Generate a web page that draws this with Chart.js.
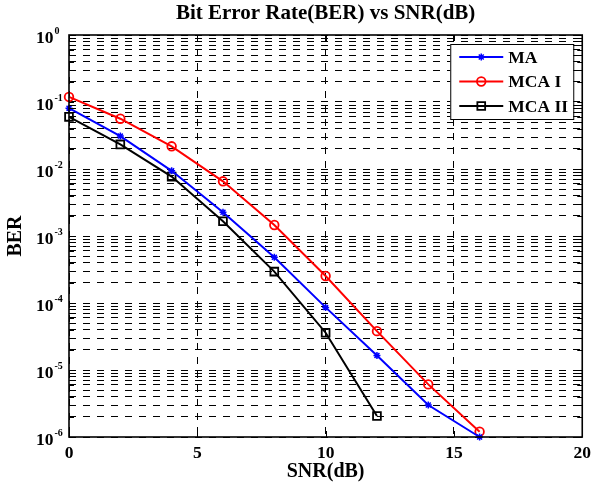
<!DOCTYPE html>
<html><head><meta charset="utf-8">
<script src="https://cdn.jsdelivr.net/npm/chart.js@4/dist/chart.umd.min.js"></script>
<style>html,body{margin:0;padding:0;background:#fff}</style>
</head><body><canvas id="c" width="597" height="486"></canvas>
<script>
// ---- data ----
const seriesNames = ['MA', 'MCA I', 'MCA II'];
const snrMA   = [0, 2, 4, 6, 8, 10, 12, 14, 16];
const berMA   = [0.081, 0.031, 0.0094, 0.00226, 0.00048, 8.6e-5, 1.65e-5, 3.0e-6, 1.0e-6];
const snrMCA1 = [0, 2, 4, 6, 8, 10, 12, 14, 16];
const berMCA1 = [0.119, 0.0563, 0.0218, 0.00655, 0.00146, 0.000253, 3.8e-5, 6.1e-6, 1.2e-6];
const snrMCA2 = [0, 2, 4, 6, 8, 10, 12];
const berMCA2 = [0.060, 0.0233, 0.0077, 0.00166, 0.000294, 3.6e-5, 2.06e-6];
const xTicks = [0, 5, 10, 15, 20];
const yDecadeExps = [0, -1, -2, -3, -4, -5, -6];
const yMinorMult = [1, 2, 3, 4, 5, 6, 7, 8, 9];

const yGrid = [];
yDecadeExps.forEach(e => {
  if (e === 0) { yGrid.push(1); return; }
  yMinorMult.forEach(m => yGrid.push(Number((m * Math.pow(10, e)).toPrecision(3))));
});
yGrid.sort((a, b) => a - b);

const serif = "'Liberation Serif', 'Times New Roman', serif";
const pts = (xs, ys) => xs.map((x, i) => ({ x, y: ys[i] }));

const frame = {
  id: 'frame',
  afterDraw(chart) {
    const { ctx, chartArea: a, scales: { x, y } } = chart;
    ctx.save();
    // inside tick marks
    ctx.strokeStyle = '#000';
    ctx.lineWidth = 1;
    ctx.setLineDash([]);
    ctx.beginPath();
    yGrid.forEach(v => {
      const py = Math.round(y.getPixelForValue(v)) + 0.5;
      ctx.moveTo(a.left, py); ctx.lineTo(a.left + 5, py);
      ctx.moveTo(a.right, py); ctx.lineTo(a.right - 5, py);
    });
    xTicks.forEach(v => {
      const px = Math.round(x.getPixelForValue(v)) + 0.5;
      ctx.moveTo(px, a.bottom); ctx.lineTo(px, a.bottom - 6);
      ctx.moveTo(px, a.top); ctx.lineTo(px, a.top + 6);
    });
    ctx.stroke();
    // box
    ctx.lineWidth = 1.6;
    ctx.strokeRect(a.left, a.top, a.right - a.left, a.bottom - a.top);

    // y tick labels 10^n
    ctx.fillStyle = '#000';
    ctx.textAlign = 'left';
    ctx.textBaseline = 'alphabetic';
    yDecadeExps.forEach(e => {
      const py = y.getPixelForValue(Math.pow(10, e));
      ctx.font = 'bold 17.5px ' + serif;
      ctx.fillText('10', 36, py + 8);
      const w = ctx.measureText('10').width;
      ctx.font = 'bold 10px ' + serif;
      ctx.fillText(String(e), 36 + w + 1, py - 1);
    });

    // legend
    const lw = 123, lh = 75;
    const lx = a.right - 9 - lw, ly = a.top + 9;
    ctx.fillStyle = '#fff';
    ctx.fillRect(lx, ly, lw, lh);
    ctx.lineWidth = 1;
    ctx.strokeStyle = '#000';
    ctx.strokeRect(lx + 0.5, ly + 0.5, lw, lh);
    chart.data.datasets.forEach((ds, i) => {
      const ry = ly + 13 + i * 24.5;
      ctx.strokeStyle = ds.borderColor;
      ctx.lineWidth = ds.borderWidth;
      ctx.beginPath();
      ctx.moveTo(lx + 9, ry); ctx.lineTo(lx + 53, ry);
      ctx.stroke();
      const opts = { pointStyle: ds.pointStyle, radius: ds.pointRadius, rotation: 0, borderWidth: ds.pointBorderWidth };
      ctx.lineWidth = ds.pointBorderWidth;
      ctx.strokeStyle = ds.pointBorderColor;
      ctx.fillStyle = 'rgba(0,0,0,0)';
      Chart.helpers.drawPoint(ctx, opts, lx + 31, ry);
      ctx.fillStyle = '#000';
      ctx.font = 'bold 17.5px ' + serif;
      ctx.textBaseline = 'middle';
      ctx.fillText(ds.label, lx + 58, ry + 1);
    });
    ctx.restore();
  }
};

new Chart(document.getElementById('c'), {
  type: 'line',
  data: {
    datasets: [
      { label: seriesNames[0], data: pts(snrMA, berMA), borderColor: '#0000ff', backgroundColor: '#0000ff',
        borderWidth: 2, pointStyle: 'star', pointRadius: 3.5, pointBorderWidth: 1.5, pointBorderColor: '#0000ff',
        pointBackgroundColor: 'rgba(0,0,0,0)', tension: 0, fill: false, clip: false },
      { label: seriesNames[1], data: pts(snrMCA1, berMCA1), borderColor: '#ff0000', backgroundColor: '#ff0000',
        borderWidth: 2, pointStyle: 'circle', pointRadius: 4.3, pointBorderWidth: 1.8, pointBorderColor: '#ff0000',
        pointBackgroundColor: 'rgba(0,0,0,0)', tension: 0, fill: false, clip: false },
      { label: seriesNames[2], data: pts(snrMCA2, berMCA2), borderColor: '#000000', backgroundColor: '#000000',
        borderWidth: 2, pointStyle: 'rect', pointRadius: 5.5, pointBorderWidth: 1.8, pointBorderColor: '#000000',
        pointBackgroundColor: 'rgba(0,0,0,0)', tension: 0, fill: false, clip: false }
    ]
  },
  options: {
    responsive: false,
    animation: false,
    layout: { padding: { left: 0, right: 10, top: 0, bottom: 0 } },
    plugins: {
      legend: { display: false },
      tooltip: { enabled: false },
      title: {
        display: true, text: 'Bit Error Rate(BER) vs SNR(dB)', color: '#000', fullSize: false,
        font: { family: serif, size: 21, weight: 'bold', lineHeight: 1.2 },
        padding: { top: 1, bottom: 8.8 }
      }
    },
    scales: {
      x: {
        type: 'linear', min: 0, max: 20,
        afterBuildTicks: s => { s.ticks = xTicks.map(v => ({ value: v })); },
        ticks: { color: '#000', font: { family: serif, size: 17.5, weight: 'bold' }, padding: 6, maxRotation: 0, autoSkip: false },
        grid: { color: '#000', lineWidth: 1, drawTicks: false, tickLength: 0 },
        border: { display: false, dash: [7, 7] },
        title: { display: true, text: 'SNR(dB)', color: '#000', font: { family: serif, size: 20, weight: 'bold', lineHeight: 1.2 }, padding: { top: 0, bottom: 2 } },
        afterFit: s => { s.height = 49; }
      },
      y: {
        type: 'logarithmic', min: 1e-6, max: 1,
        afterBuildTicks: s => { s.ticks = yGrid.map(v => ({ value: v })); },
        ticks: { display: false, autoSkip: false },
        grid: { color: '#000', lineWidth: 1, drawTicks: false, tickLength: 0 },
        border: { display: false, dash: [7, 7] },
        title: { display: true, text: 'BER', color: '#000', font: { family: serif, size: 20, weight: 'bold', lineHeight: 1.2 }, padding: { top: 4, bottom: 0 } },
        afterFit: s => { s.width = 69; }
      }
    }
  },
  plugins: [frame]
});
</script>
</body></html>
